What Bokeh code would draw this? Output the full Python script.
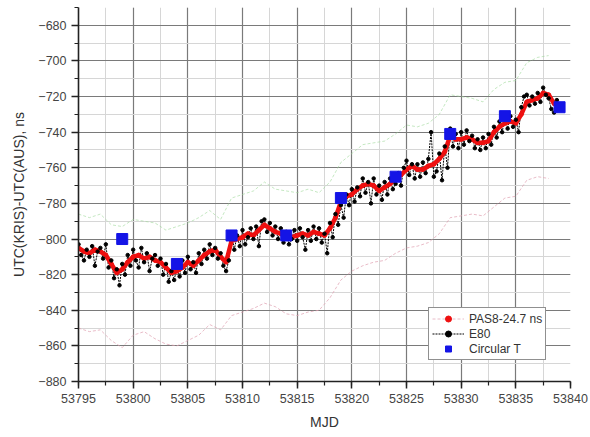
from bokeh.plotting import figure
from bokeh.models import Range1d, SingleIntervalTicker, Legend, LegendItem
from bokeh.embed import file_html
from bokeh.resources import INLINE

# ---- data ----
red_mjd_start = 53795.0
red_step = 0.5
pas8_values = [
    -805, -807, -808, -806, -807, -809, -814, -819, -817, -813,
    -810, -809, -811, -810, -812, -813, -816, -819, -818, -816,
    -813, -815, -812, -809, -807, -806, -810, -813, -801, -800,
    -799, -797, -798, -795, -792, -794, -796, -797, -798, -799,
    -798, -797, -798, -796, -797, -798, -794, -788, -779, -776,
    -775, -772, -770, -769, -770, -773, -771, -769, -766, -764,
    -761, -759, -761, -761, -759, -758, -755, -751, -742, -744,
    -744, -743, -744, -746, -746, -745, -740, -737, -735, -734,
    -735, -730, -723, -722, -721, -718, -719, -724, -725,
]
pas8_mjd = [red_mjd_start + red_step * i for i in range(len(pas8_values))]

e80_step = 0.25
e80_values = [
    -803, -809, -812, -806, -810, -804, -815, -807, -805, -811, -803, -816,
    -812, -822, -817, -826, -814, -820, -809, -815, -806, -812, -816, -805,
    -813, -808, -818, -811, -809, -815, -811, -820, -814, -824, -818, -823,
    -816, -821, -812, -819, -810, -817, -813, -819, -808, -814, -806, -811,
    -803, -809, -805, -811, -808, -815, -818, -812, -797, -806, -798, -804,
    -795, -803, -799, -794, -800, -793, -804, -790, -789, -796, -791, -798,
    -793, -800, -794, -802, -796, -803, -800, -795, -801, -794, -799, -806,
    -795, -801, -793, -800, -794, -802, -797, -808, -791, -799, -786, -792,
    -781, -788, -775, -781, -772, -779, -771, -776, -766, -774, -768, -780,
    -766, -775, -770, -778, -768, -775, -766, -772, -769, -763, -770, -760,
    -756, -764, -758, -766, -758, -765, -757, -763, -755, -740, -765, -762,
    -752, -767, -748, -760, -738, -748, -741, -749, -740, -747, -739, -745,
    -742, -749, -744, -750, -743, -749, -741, -747, -737, -743, -734, -740,
    -732, -738, -731, -737, -733, -740, -726, -720, -719, -725, -720, -724,
    -718, -723, -715, -719, -721, -727, -729, -722, -725,
]
e80_mjd = [53795.0 + e80_step * i for i in range(len(e80_values))]

circt_mjd = [53799, 53804, 53809, 53814, 53819, 53824, 53829, 53834, 53839]
circt_values = [-800, -814, -798, -798, -777, -765, -741, -731, -726]

faint_mjd = list(range(53795, 53839))
green_values = [
    -786, -788, -786, -792, -793, -789, -790, -791, -795, -793,
    -791, -788, -784, -789, -777, -775, -773, -768, -772, -773,
    -774, -772, -774, -768, -757, -752, -747, -746, -745, -741,
    -736, -737, -735, -730, -719, -720, -721, -723, -716, -712,
    -711, -701, -698, -697,
]
pink_values = [
    -850, -852, -851, -857, -861, -854, -852, -856, -859, -860,
    -857, -854, -848, -851, -843, -841, -839, -836, -838, -842,
    -843, -841, -840, -833, -823, -818, -815, -813, -812, -808,
    -805, -804, -802, -797, -788, -787, -786, -787, -782, -777,
    -776, -767, -765, -766,
]

legend_labels = ["PAS8-24.7 ns", "E80", "Circular T"]

# ---- figure ----
p = figure(width=590, height=437, output_backend="svg", toolbar_location=None,
           x_range=Range1d(53795, 53840), y_range=Range1d(-880, -670),
           min_border_left=78, min_border_right=20, min_border_top=7,
           min_border_bottom=56)
p.outline_line_color = None
p.background_fill_color = "white"
p.border_fill_color = "white"

p.xaxis.ticker = SingleIntervalTicker(interval=5, num_minor_ticks=2)
p.yaxis.ticker = SingleIntervalTicker(interval=20, num_minor_ticks=2)

for g in (p.xgrid, p.ygrid):
    g.grid_line_color = "#7a7a7a"
    g.grid_line_width = 1.2
    g.minor_grid_line_color = "#d6d6d6"
    g.minor_grid_line_width = 1

for ax in (p.xaxis, p.yaxis):
    ax.axis_line_color = "#222222"
    ax.axis_line_width = 1.6
    ax.major_tick_line_color = "#222222"
    ax.major_tick_line_width = 1.5
    ax.minor_tick_line_color = "#222222"
    ax.minor_tick_line_width = 1.2
    ax.major_tick_out = 7
    ax.major_tick_in = 0
    ax.minor_tick_out = 4
    ax.minor_tick_in = 0
    ax.major_label_text_font = "Liberation Sans"
    ax.major_label_text_font_size = "12.5px"
    ax.major_label_text_color = "#444444"
    ax.axis_label_text_font = "Liberation Sans"
    ax.axis_label_text_font_size = "14px"
    ax.axis_label_text_font_style = "normal"
    ax.axis_label_text_color = "#333333"

p.xaxis.axis_label = "MJD"
p.yaxis.axis_label = "UTC(KRIS)-UTC(AUS), ns"
p.xaxis.axis_label_standoff = 8
p.yaxis.axis_label_standoff = 8

# faint lines
green = p.line(faint_mjd, green_values, line_color="#9fd99a", line_width=1,
               line_alpha=0.6, line_dash="3 2")
pink = p.line(faint_mjd, pink_values, line_color="#e0a0b0", line_width=1,
              line_alpha=0.7, line_dash="3 2")

# E80
e80_line = p.line(e80_mjd, e80_values, line_color="black", line_width=1,
                  line_dash="2 1")
# PAS8
pas8_line = p.line(pas8_mjd, pas8_values, line_color="#ee1010", line_width=4.5)
pas8_pts = p.scatter(pas8_mjd, pas8_values, marker="circle", size=4,
                     color="#ee1010")
e80_pts = p.scatter(e80_mjd, e80_values, marker="circle", size=3.5,
                    color="black")
# Circular T
circ = p.scatter(circt_mjd, circt_values, marker="square", size=11,
                 color="#1414e6")

legend = Legend(items=[
    LegendItem(label=legend_labels[0], renderers=[pink, pas8_pts]),
    LegendItem(label=legend_labels[1], renderers=[e80_line, e80_pts]),
    LegendItem(label=legend_labels[2], renderers=[circ]),
], location=(350, 21))
legend.label_text_font = "Liberation Sans"
legend.label_text_font_size = "12px"
legend.label_text_color = "#333333"
legend.label_height = 15
legend.glyph_height = 15
legend.glyph_width = 32
legend.spacing = 0
legend.padding = 3
legend.margin = 0
legend.border_line_color = "#222222"
legend.border_line_width = 1
legend.background_fill_alpha = 1
p.add_layout(legend)

open("out.html", "w").write(file_html(p, INLINE))
